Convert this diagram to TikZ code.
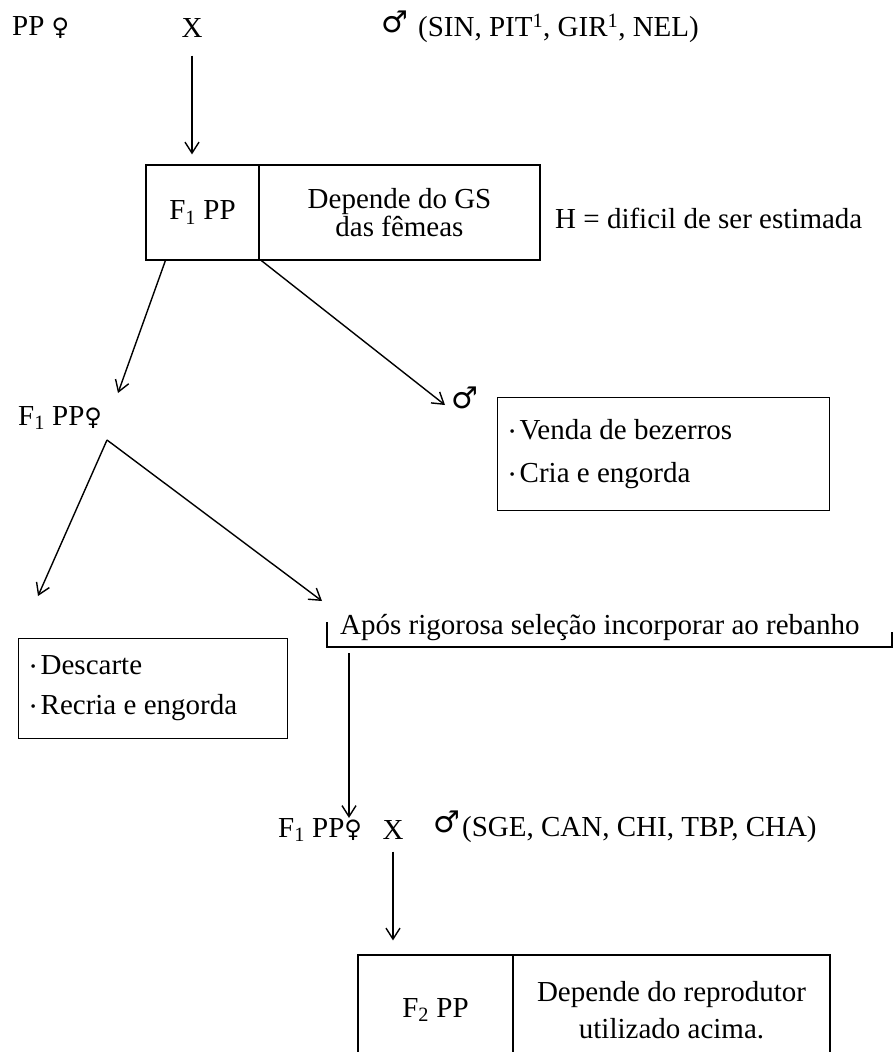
\documentclass[tikz,border=0pt]{standalone}
\usepackage{fontspec}
\setmainfont{Liberation Serif}
\newfontfamily\symfont{DejaVu Sans}
\usetikzlibrary{arrows.meta,calc}
% sex symbols and list bullet
\newcommand\fem{{\symfont\fontsize{24}{24}\selectfont ♀}}
\newcommand\masc{{\symfont\fontsize{30}{30}\selectfont ♂}}
\newcommand\itm{\raisebox{3pt}{\fontsize{15}{15}\selectfont •}\,}

\begin{document}
\begin{tikzpicture}[x=1pt,y=-1pt,
  every node/.style={font=\fontsize{29}{34}\selectfont, inner sep=0pt},
  arr/.style={-{Straight Barb[length=11pt,width=14pt]}, line width=1.4pt},
  cell/.style={draw, line width=1.2pt, align=center},
  listbox/.style={draw, line width=1.2pt, anchor=north west, align=flush left, inner xsep=12pt},
]
\clip (0,0) rectangle (896,1052);

% parental cross
\node[anchor=west] (pp) at (12,28) {PP \fem};
\node (x1) at (192,28) {X};
\node (m1) at (395,22) {\masc};
\node[anchor=west] (m1t) at (418,28) {(SIN, PIT\textsuperscript{1}, GIR\textsuperscript{1}, NEL)};

% F1 box
\node[cell, minimum width=113pt, minimum height=95pt] (f1) at (202.5,212.5) {F\textsubscript{1} PP};
\node[cell, minimum width=281pt, minimum height=95pt, font=\fontsize{29}{24}\selectfont] (gs) at (399.5,212.5) {Depende do GS\\das fêmeas};
\node[anchor=west] (h) at (555,218) {H = dificil de ser estimada};

\draw[arr, shorten <=18pt, shorten >=10pt] (x1.south) -- (x1.south |- f1.north);

% F1 offspring
\node[anchor=west] (f1f) at (18,418) {F\textsubscript{1} PP\fem};
\node (m2) at (465,398) {\masc};
\node[listbox, minimum width=332pt, minimum height=113pt, text width=308pt,
      font=\fontsize{29}{43}\selectfont] (sale) at (497,397)
  {\itm Venda de bezerros\\\itm Cria e engorda};

\coordinate (f1a) at ($(f1.south west)+(20,0)$);
\coordinate (f1b) at ($(gs.south west)+(3,0)$);
\coordinate (f1fin) at (118,393);
\coordinate (m2in) at (445,405);
\draw[arr] (f1a) -- (f1fin);
\draw[arr] (f1b) -- (m2in);

% destination of the F1 females
\node[listbox, minimum width=269pt, minimum height=100pt, text width=245pt,
      font=\fontsize{29}{40}\selectfont] (disc) at (18,638)
  {\itm Descarte\\\itm Recria e engorda};
\node[anchor=west] (sel) at (340,628) {Após rigorosa seleção incorporar ao rebanho};
\draw[line width=1.2pt] (327,622) |- (892,647) -- (892,632);

\coordinate (f1fout) at (107,440);
\coordinate (discin) at (38,596);
\coordinate (selin) at (322,601);
\draw[arr] (f1fout) -- (discin);
\draw[arr] (f1fout) -- (selin);

% second cross
\node[anchor=west] (f1g) at (278,830) {F\textsubscript{1} PP\fem};
\node (x2) at (393,830) {X};
\node (m3) at (447,822) {\masc};
\node[anchor=west] (m3t) at (462,830) {(SGE, CAN, CHI, TBP, CHA)};

\coordinate (selout) at (349,653);
\draw[arr] (selout) -- (selout |- f1g.north);

% F2 box
\node[cell, minimum width=155pt, minimum height=110pt] (f2) at (435.5,1010) {F\textsubscript{2} PP};
\node[cell, minimum width=317pt, minimum height=110pt, font=\fontsize{29}{37}\selectfont] (rep) at (671.5,1010) {Depende do reprodutor\\utilizado acima.};

\draw[arr, shorten <=12pt, shorten >=14pt] (x2.south) -- (x2.south |- f2.north);
\end{tikzpicture}
\end{document}
